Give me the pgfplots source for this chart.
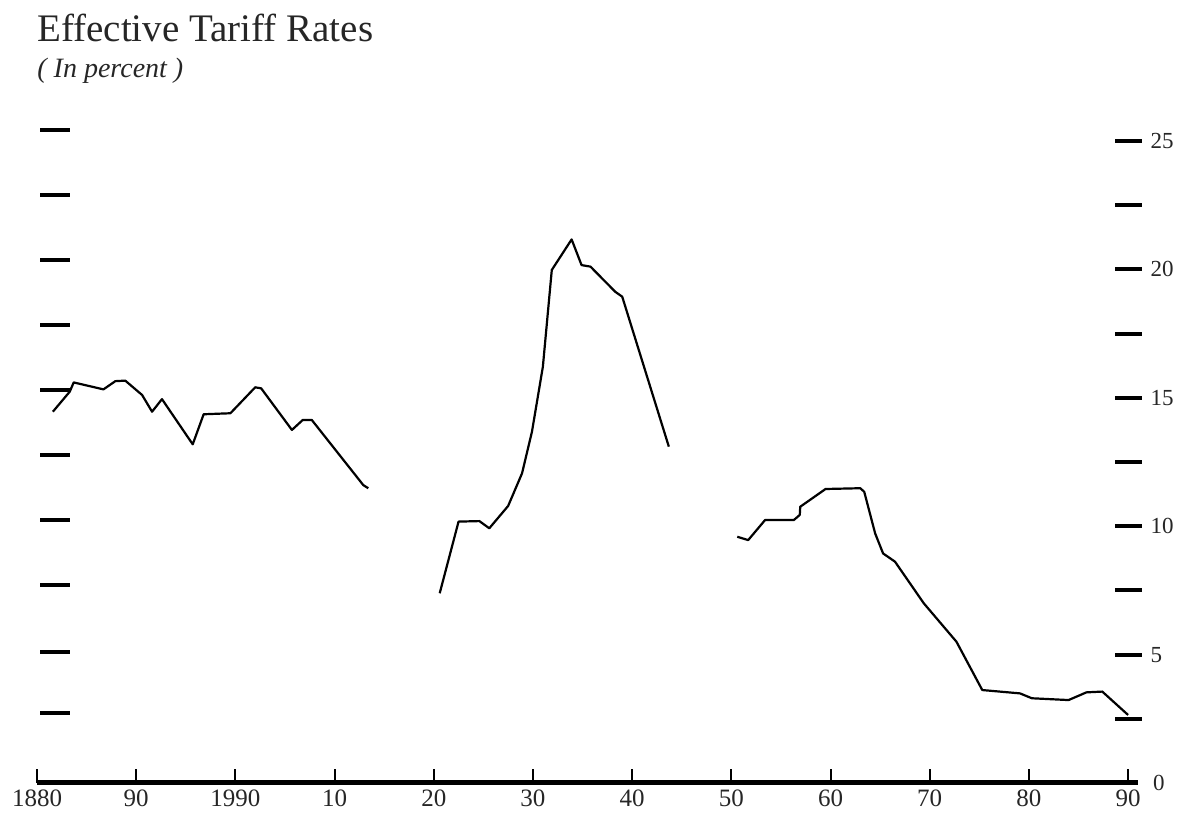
\documentclass[border=0pt]{standalone}
\usepackage{fontspec}
\setmainfont{Liberation Serif}
\usepackage{pgfplots}
\pgfplotsset{compat=1.18}
\begin{document}
\begin{tikzpicture}
\path (-18.5pt,-15.5pt) rectangle (574pt,391.5pt);
\node[anchor=base west, inner sep=0pt, font=\fontsize{19.5}{22}\selectfont, text=black!85] at (0,370.5pt) {Effective Tariff Rates};
\node[anchor=base west, inner sep=0pt, font=\fontsize{14}{16}\selectfont\itshape, text=black!85] at (0,352.5pt) {( In percent )};
% main axis: x axis and data
\begin{axis}[
  at={(0,0)}, anchor=south west, scale only axis,
  width=550.5pt, height=333.8pt,
  xmin=1880, xmax=1991, ymin=0, ymax=26,
  axis x line=bottom, axis y line=none,
  x axis line style={line width=2.5pt, -},
  xtick={1880,1890,...,1990},
  xticklabels={1880,90,1990,10,20,30,40,50,60,70,80,90},
  tick align=inside, major tick length=7pt,
  xtick style={line width=1pt, black},
  xticklabel style={font=\fontsize{12.5}{14}\selectfont, text=black!85},
  clip=false,
]
\addplot[black, line width=1.1pt, line join=round] coordinates {
(1881.6,14.46) (1883.3,15.24) (1883.7,15.60) (1886.7,15.33) (1887.9,15.65)
(1888.9,15.67) (1890.6,15.11) (1891.6,14.46) (1892.6,14.95) (1895.7,13.19)
(1896.8,14.36) (1899.5,14.40) (1902.0,15.41) (1902.6,15.37) (1905.7,13.75)
(1906.8,14.14) (1907.7,14.14) (1912.9,11.60) (1913.4,11.48)
};
\addplot[black, line width=1.1pt, line join=round] coordinates {
(1920.6,7.39) (1922.5,10.18) (1924.6,10.20) (1925.6,9.92) (1927.5,10.79)
(1928.9,12.06) (1929.9,13.68) (1931.0,16.21) (1931.9,19.98) (1933.9,21.17)
(1934.9,20.17) (1935.8,20.11) (1938.3,19.13) (1939.0,18.94) (1943.7,13.10)
};
\addplot[black, line width=1.1pt, line join=round] coordinates {
(1950.6,9.59) (1951.7,9.46) (1953.4,10.24) (1956.3,10.24) (1956.9,10.44)
(1956.95,10.76) (1959.5,11.45) (1963.0,11.48) (1963.4,11.34) (1964.5,9.72)
(1965.3,8.94) (1966.5,8.62) (1969.4,7.00) (1972.7,5.50) (1975.3,3.62)
(1979.1,3.49) (1980.3,3.30) (1984.0,3.23) (1985.8,3.53) (1987.4,3.56)
(1990.0,2.65)
};
\end{axis}
% right axis with labels
\begin{axis}[
  at={(0,0)}, anchor=south west, scale only axis,
  width=545.5pt, height=333.8pt,
  xmin=1880, xmax=1990, ymin=0, ymax=26,
  axis x line=none, axis y line=right,
  axis line style={draw=none},
  ytick={2.5,5,7.5,10,12.5,15,17.5,20,22.5,25},
  yticklabels={,5,,10,,15,,20,,25},
  tick align=center, major tick length=13.5pt,
  ytick style={line width=2pt, black},
  yticklabel style={font=\fontsize{11.5}{13}\selectfont, text=black!85, xshift=1pt},
  extra y ticks={0}, extra y tick labels={0},
  extra y tick style={major tick length=0pt, yticklabel style={xshift=8pt}},
]
\end{axis}
% left ticks without labels
\begin{axis}[
  at={(9pt,0)}, anchor=south west, scale only axis,
  width=10pt, height=333.8pt,
  xmin=0, xmax=1, ymin=0, ymax=26,
  axis x line=none, axis y line=left,
  axis line style={draw=none},
  ytick={2.73,5.10,7.71,10.24,12.77,15.30,17.83,20.37,22.90,25.43},
  yticklabels={},
  tick align=center, major tick length=15pt,
  ytick style={line width=2pt, black},
]
\end{axis}
\end{tikzpicture}
\end{document}
